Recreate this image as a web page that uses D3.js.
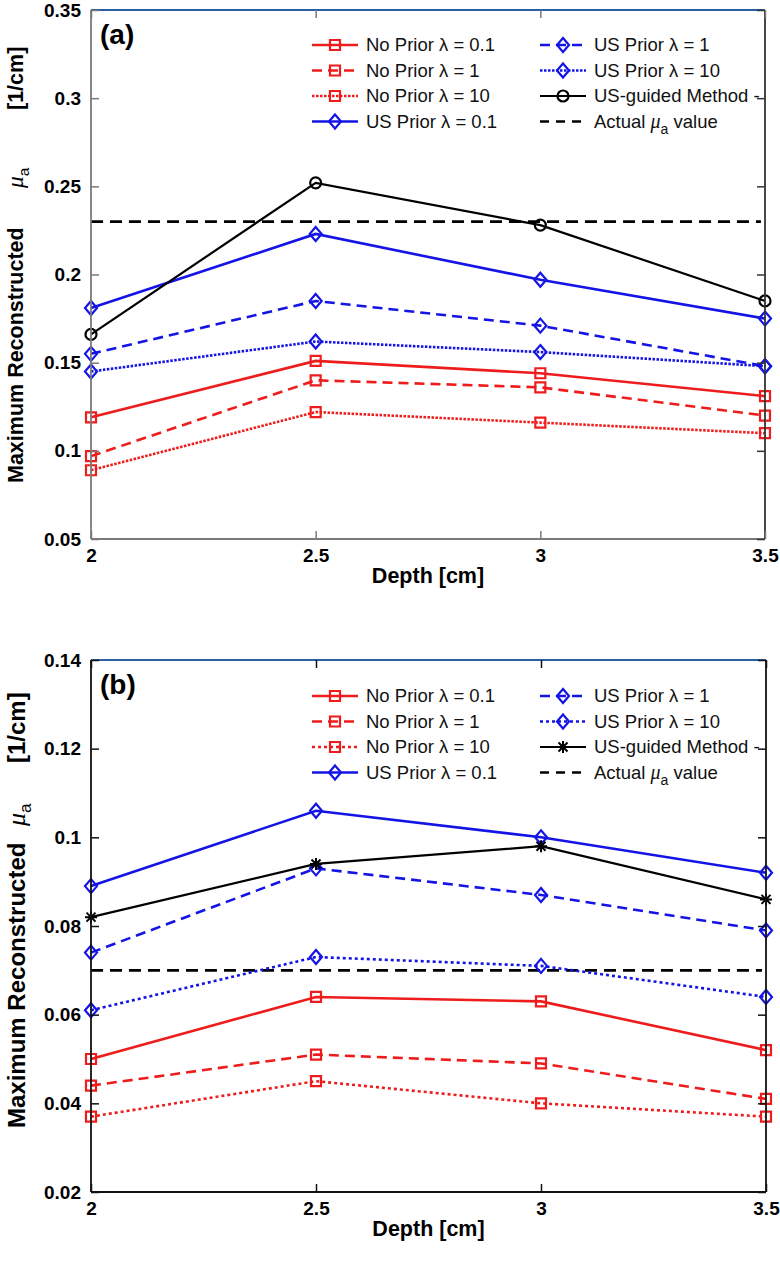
<!DOCTYPE html>
<html><head><meta charset="utf-8">
<script src="https://cdn.jsdelivr.net/npm/d3@7"></script>
<style>
html,body{margin:0;padding:0;background:#fff;}
svg{display:block;}
text{font-family:"Liberation Sans",Arial,sans-serif;}
</style></head>
<body>
<svg id="chart" width="780" height="1261"></svg>
<script>
// ---------------- DATA ----------------
const depths = [2, 2.5, 3, 3.5];
const xTickValues = [2, 2.5, 3, 3.5];
const yTicksA = [0.05, 0.1, 0.15, 0.2, 0.25, 0.3, 0.35];
const yTicksB = [0.02, 0.04, 0.06, 0.08, 0.1, 0.12, 0.14];

// Panel (a)
const aNoPrior01 = [0.119, 0.151, 0.144, 0.131];
const aNoPrior1  = [0.097, 0.140, 0.136, 0.120];
const aNoPrior10 = [0.089, 0.122, 0.116, 0.110];
const aUSPrior01 = [0.181, 0.223, 0.197, 0.175];
const aUSPrior1  = [0.155, 0.185, 0.171, 0.148];
const aUSPrior10 = [0.145, 0.162, 0.156, 0.148];
const aUSGuided  = [0.166, 0.252, 0.228, 0.185];
const aActual = 0.23;

// Panel (b)
const bNoPrior01 = [0.050, 0.064, 0.063, 0.052];
const bNoPrior1  = [0.044, 0.051, 0.049, 0.041];
const bNoPrior10 = [0.037, 0.045, 0.040, 0.037];
const bUSPrior01 = [0.089, 0.106, 0.100, 0.092];
const bUSPrior1  = [0.074, 0.093, 0.087, 0.079];
const bUSPrior10 = [0.061, 0.073, 0.071, 0.064];
const bUSGuided  = [0.082, 0.094, 0.098, 0.086];
const bActual = 0.07;

const legendLabels = ["No Prior λ = 0.1", "No Prior λ = 1", "No Prior λ = 10", "US Prior λ = 0.1",
                      "US Prior λ = 1", "US Prior λ = 10", "US-guided Method -", "Actual μa value"];

// ---------------- STYLE ----------------
const RED = "#ee1c1c", BLUE = "#1414e6", BLACK = "#000";
const DASH = "10,6", DOT = "2.5,1.5", DOTB = "3,3";

const svg = d3.select("#chart");

function markerPath(type){
  if(type==="square") return "M-5,-5H5V5H-5Z";
  if(type==="diamond") return "M0,-7L6,0L0,7L-6,0Z";
  if(type==="circle") return "M5.5,0A5.5,5.5 0 1,1 -5.5,0A5.5,5.5 0 1,1 5.5,0Z";
  if(type==="star") return "M-6,0H6M0,-6V6M-4.5,-4.5L4.5,4.5M-4.5,4.5L4.5,-4.5";
  return "";
}

function drawPanel(cfg){
  const x = d3.scaleLinear().domain([2, 3.5]).range([cfg.left, cfg.right]);
  const y = d3.scaleLinear().domain(cfg.yDomain).range([cfg.bottom, cfg.top]);
  const g = svg.append("g");

  const line = d3.line().x((d,i)=>x(depths[i])).y(d=>y(d));
  g.append("line").attr("x1", x(2)).attr("x2", x(3.5)-4)
    .attr("y1", y(cfg.actual)).attr("y2", y(cfg.actual))
    .attr("stroke", BLACK).attr("stroke-width", 2.6).attr("stroke-dasharray", "12,7");

  cfg.series.forEach(s=>{
    g.append("path").datum(s.values).attr("d", line)
      .attr("fill","none").attr("stroke", s.color).attr("stroke-width", s.width)
      .attr("stroke-dasharray", s.dash||null);
    g.selectAll(null).data(s.values).enter().append("path")
      .attr("transform",(d,i)=>`translate(${x(depths[i])},${y(d)})`)
      .attr("d", markerPath(s.marker))
      .attr("fill","none").attr("stroke", s.color).attr("stroke-width", s.marker==="star"?2:2.2);
  });

  const axisColor = cfg.axisColor;
  g.append("line").attr("x1",cfg.left).attr("x2",cfg.left).attr("y1",cfg.top).attr("y2",cfg.bottom).attr("stroke",axisColor).attr("stroke-width",1.8);
  g.append("line").attr("x1",cfg.left).attr("x2",cfg.right).attr("y1",cfg.bottom).attr("y2",cfg.bottom).attr("stroke",axisColor).attr("stroke-width",1.8);
  g.append("line").attr("x1",cfg.right).attr("x2",cfg.right).attr("y1",cfg.top).attr("y2",cfg.bottom).attr("stroke",cfg.rightColor).attr("stroke-width",1.8);
  g.append("line").attr("x1",cfg.left).attr("x2",cfg.right).attr("y1",cfg.top).attr("y2",cfg.top).attr("stroke","#2a5fa0").attr("stroke-width",2);

  const yAxis = d3.axisLeft(y).tickValues(cfg.yTicks).tickSize(-8).tickPadding(10)
    .tickFormat(d=>d3.format("")(+d.toFixed(2)));
  const ya = g.append("g").attr("transform",`translate(${cfg.left},0)`).call(yAxis);
  ya.select(".domain").remove();
  ya.selectAll(".tick line").attr("stroke", axisColor).attr("stroke-width",1.5);
  ya.selectAll(".tick text").attr("font-size",19).attr("font-weight","bold").attr("fill","#000")
    .attr("font-family","'Liberation Sans',Arial,sans-serif");
  const yr = g.append("g").attr("transform",`translate(${cfg.right},0)`).call(d3.axisRight(y).tickValues(cfg.yTicks).tickSize(-8).tickFormat(""));
  yr.select(".domain").remove();
  yr.selectAll(".tick line").attr("stroke", cfg.rightColor).attr("stroke-width",1.5);

  const xAxis = d3.axisBottom(x).tickValues(xTickValues).tickSize(-8).tickPadding(10).tickFormat(d=>d);
  const xa = g.append("g").attr("transform",`translate(0,${cfg.bottom})`).call(xAxis);
  xa.select(".domain").remove();
  xa.selectAll(".tick line").attr("stroke", axisColor).attr("stroke-width",1.5);
  xa.selectAll(".tick text").attr("font-size",19).attr("font-weight","bold").attr("fill","#000")
    .attr("font-family","'Liberation Sans',Arial,sans-serif");
  const xt = g.append("g").attr("transform",`translate(0,${cfg.top})`).call(d3.axisTop(x).tickValues(xTickValues).tickSize(-8).tickFormat(""));
  xt.select(".domain").remove();
  xt.selectAll(".tick line").attr("stroke", axisColor).attr("stroke-width",1.5);

  g.append("text").attr("x", (cfg.left+cfg.right)/2).attr("y", cfg.bottom+44)
    .attr("text-anchor","middle").attr("font-size",21.5).attr("font-weight","bold").text("Depth [cm]");

  // y label (rotated); positions along the axis given in screen y
  const yl = g.append("g").attr("transform",`translate(${cfg.ylab.x},0) rotate(-90)`);
  yl.append("text").attr("x",-cfg.ylab.start).attr("y",0).attr("font-size",cfg.ylab.size)
    .attr("font-weight","bold").text("Maximum Reconstructed");
  const mu = yl.append("text").attr("x",-cfg.ylab.mu).attr("y",0);
  mu.append("tspan").attr("font-style","italic").attr("font-family","'Liberation Serif',serif")
    .attr("font-size",cfg.ylab.size+2).text("μ");
  mu.append("tspan").attr("font-size",cfg.ylab.size*0.72).attr("dy",6).text("a");
  yl.append("text").attr("x",-cfg.ylab.unit).attr("y",0).attr("font-size",cfg.ylab.size)
    .attr("font-weight","bold").text("[1/cm]");

  g.append("text").attr("x", cfg.left+9).attr("y", cfg.top+34)
    .attr("font-family","'Liberation Serif','Times New Roman',serif").attr("font-weight","bold")
    .attr("font-size",28).text(cfg.label);

  const colX = [312, 540], rowY = cfg.legendRows;
  const items = cfg.series.concat([{color:BLACK, width:2.6, dash:"9,7", marker:null}]);
  items.forEach((s,i)=>{
    const col = i<4?0:1, row = i%4;
    const lx = colX[col], ly = rowY[row];
    g.append("line").attr("x1",lx).attr("x2",lx+46).attr("y1",ly).attr("y2",ly)
      .attr("stroke",s.color).attr("stroke-width",s.width).attr("stroke-dasharray",s.dash||null);
    if(s.marker){
      g.append("path").attr("transform",`translate(${lx+23},${ly})`).attr("d",markerPath(s.marker))
        .attr("fill","none").attr("stroke",s.color).attr("stroke-width",s.marker==="star"?2:2.2);
    }
    const t = g.append("text").attr("x",lx+54).attr("y",ly+6).attr("font-size",18.5).attr("fill","#111");
    const lab = legendLabels[i];
    if(lab.indexOf("μa")>=0){
      t.append("tspan").text("Actual ");
      t.append("tspan").attr("font-style","italic").attr("font-family","'Liberation Serif',serif").attr("font-size",20).text("μ");
      t.append("tspan").attr("font-size",14).attr("dy",6).text("a");
      t.append("tspan").attr("dy",-6).text(" value");
    } else t.text(lab);
  });
}

drawPanel({
  label:"(a)", left:91, right:765, top:10, bottom:539, yDomain:[0.05,0.35], yTicks:yTicksA,
  actual:aActual, axisColor:"#7a7a7a", rightColor:"#333",
  legendRows:[45,70.5,96,121.5],
  ylab:{x:23, size:21.5, start:483, mu:188, unit:110},
  series:[
    {values:aNoPrior01, color:RED, width:2.6, dash:null, marker:"square"},
    {values:aNoPrior1,  color:RED, width:2.6, dash:DASH, marker:"square"},
    {values:aNoPrior10, color:RED, width:2.6, dash:DOT, marker:"square"},
    {values:aUSPrior01, color:BLUE, width:2.6, dash:null, marker:"diamond"},
    {values:aUSPrior1,  color:BLUE, width:2.6, dash:DASH, marker:"diamond"},
    {values:aUSPrior10, color:BLUE, width:2.6, dash:DOT, marker:"diamond"},
    {values:aUSGuided,  color:BLACK, width:2.2, dash:null, marker:"circle"}
  ]
});

drawPanel({
  label:"(b)", left:91, right:766, top:660, bottom:1192, yDomain:[0.02,0.14], yTicks:yTicksB,
  actual:bActual, axisColor:"#111", rightColor:"#111",
  legendRows:[696,721.5,747,772.5],
  ylab:{x:25, size:24, start:1128, mu:826, unit:763},
  series:[
    {values:bNoPrior01, color:RED, width:2.6, dash:null, marker:"square"},
    {values:bNoPrior1,  color:RED, width:2.6, dash:DASH, marker:"square"},
    {values:bNoPrior10, color:RED, width:2.6, dash:DOTB, marker:"square"},
    {values:bUSPrior01, color:BLUE, width:2.6, dash:null, marker:"diamond"},
    {values:bUSPrior1,  color:BLUE, width:2.6, dash:DASH, marker:"diamond"},
    {values:bUSPrior10, color:BLUE, width:2.6, dash:DOTB, marker:"diamond"},
    {values:bUSGuided,  color:BLACK, width:2.2, dash:null, marker:"star"}
  ]
});
</script>
</body></html>
